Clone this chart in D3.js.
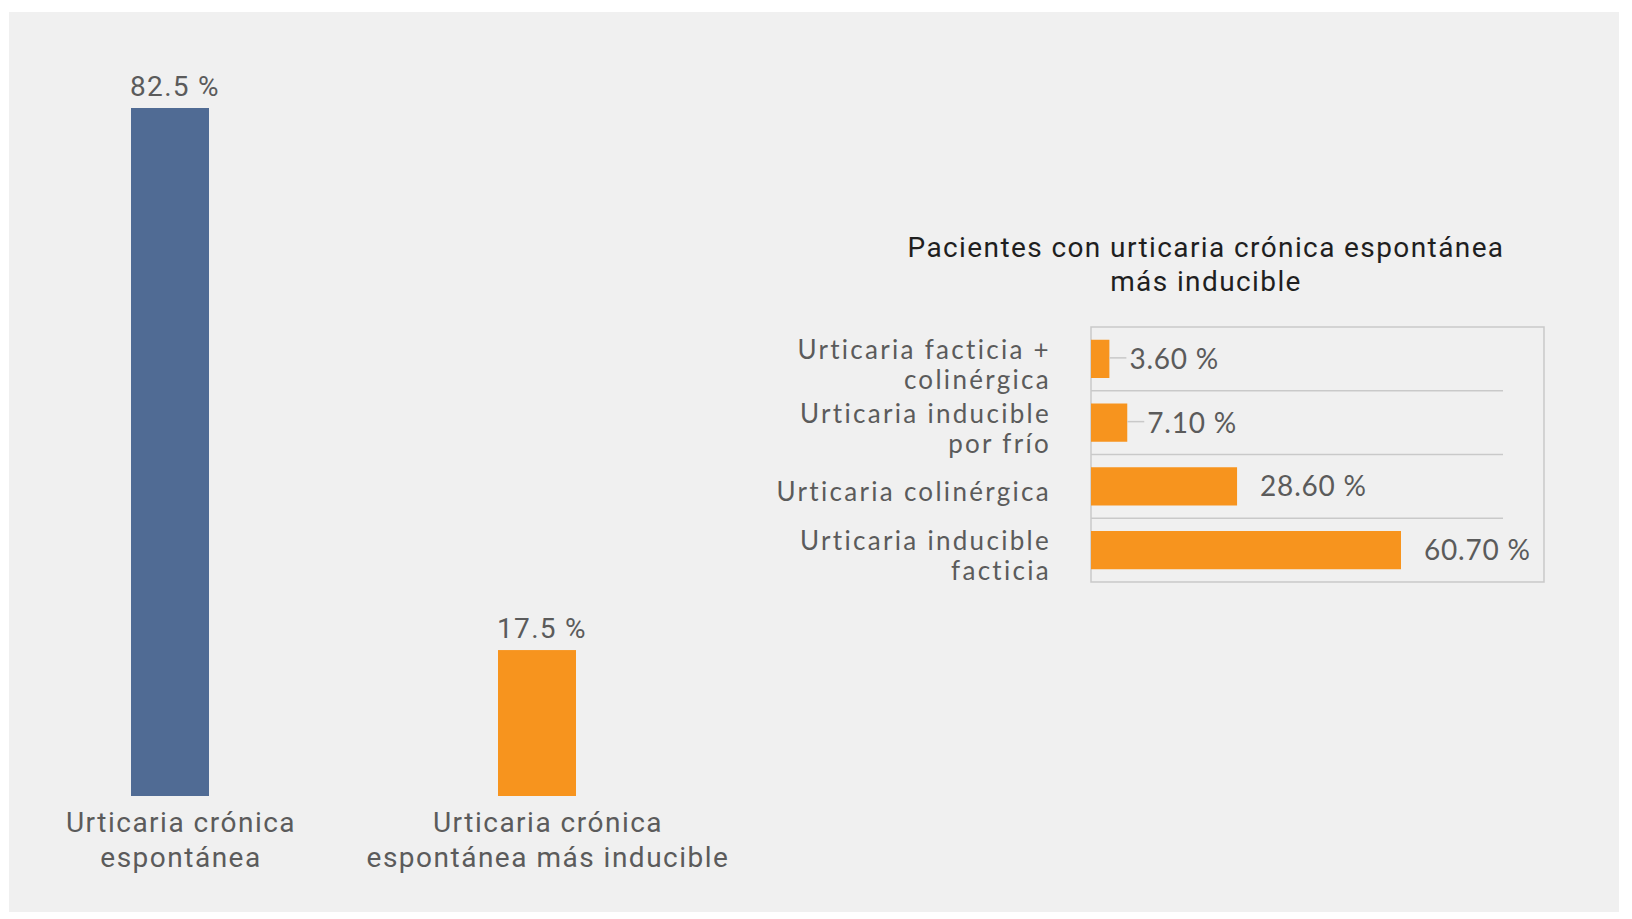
<!DOCTYPE html>
<html>
<head>
<meta charset="utf-8">
<script src="https://cdn.jsdelivr.net/npm/d3@7"></script>
<style>
    body { margin: 0; background: #ffffff; }
    svg { display: block; }
</style>
</head>
<body>
<div id="viewport"></div>
<script>
// left chart: share of patients
var mainCategories = [["Urticaria crónica", "espontánea"], ["Urticaria crónica", "espontánea más inducible"]];
var mainValues = [82.5, 17.5];
var mainLabels = ["82.5 %", "17.5 %"];

// right chart: breakdown of the inducible group
var subTitle = ["Pacientes con urticaria crónica espontánea", "más inducible"];
var subCategories = [["Urticaria facticia +", "colinérgica"], ["Urticaria inducible", "por frío"], ["Urticaria colinérgica"], ["Urticaria inducible", "facticia"]];
var subValues = [3.6, 7.1, 28.6, 60.7];
var subLabels = ["3.60 %", "7.10 %", "28.60 %", "60.70 %"];

var width = 1632,
    height = 919;

var blue = "#506b94",
    orange = "#f7941e",
    textGrey = "#5b5b5b",
    lineGrey = "#c9c9c9";

var svg = d3.select("#viewport").append("svg")
    .attr("width", width)
    .attr("height", height);

svg.append("rect")
    .attr("x", 9).attr("y", 12)
    .attr("width", 1610).attr("height", 900)
    .attr("fill", "#f0f0f0");

// ---- left chart
var x1 = d3.scalePoint().domain(d3.range(mainValues.length)).range([170, 537]),
    y1 = d3.scaleLinear().domain([0, 82.5]).range([796, 108]);
var barW = 78;

var left = svg.append("g");

left.selectAll("rect.bar")
    .data(mainValues)
    .enter().append("rect")
    .attr("class", "bar")
    .attr("x", function(d, i) { return x1(i) - barW / 2; })
    .attr("y", function(d) { return y1(d); })
    .attr("width", barW)
    .attr("height", function(d) { return y1(0) - y1(d); })
    .attr("fill", function(d, i) { return i === 0 ? blue : orange; });

left.selectAll("text.value")
    .data(mainValues)
    .enter().append("text")
    .attr("class", "value")
    .attr("x", function(d, i) { return x1(i) + 5; })
    .attr("y", function(d) { return y1(d) - 12; })
    .attr("text-anchor", "middle")
    .style("font", "28px Roboto")
    .style("letter-spacing", "1.3px")
    .attr("fill", textGrey)
    .text(function(d, i) { return mainLabels[i]; });

var catText = left.selectAll("text.cat")
    .data(mainCategories)
    .enter().append("text")
    .attr("class", "cat")
    .attr("x", function(d, i) { return x1(i) + 11; })
    .attr("y", y1(0) + 36)
    .attr("text-anchor", "middle")
    .style("font", "28px Roboto")
    .style("letter-spacing", "1.5px")
    .attr("fill", textGrey);

catText.selectAll("tspan")
    .data(function(d) { return d; })
    .enter().append("tspan")
    .attr("x", function() { return this.parentNode.getAttribute("x"); })
    .attr("dy", function(d, i) { return i === 0 ? 0 : 35; })
    .text(function(d) { return d; });

// ---- right chart
var x2 = d3.scaleLinear().domain([0, 60.7]).range([1091, 1401]),
    y2 = d3.scaleBand().domain(d3.range(subValues.length)).range([327, 582])
        .paddingInner(0.4).paddingOuter(0.2);

var right = svg.append("g");

var title = right.append("text")
    .attr("x", 1206)
    .attr("y", 257)
    .attr("text-anchor", "middle")
    .style("font", "28px Roboto")
    .style("letter-spacing", "1.4px")
    .attr("fill", "#1f1f1f");
title.selectAll("tspan")
    .data(subTitle)
    .enter().append("tspan")
    .attr("x", 1206)
    .attr("dy", function(d, i) { return i === 0 ? 0 : 34; })
    .text(function(d) { return d; });

right.append("rect")
    .attr("x", x2(0)).attr("y", 327)
    .attr("width", 1544 - x2(0)).attr("height", 582 - 327)
    .attr("fill", "none")
    .attr("stroke", lineGrey)
    .attr("stroke-width", 1.5);

// separators between rows
right.selectAll("line.sep")
    .data(d3.range(1, subValues.length))
    .enter().append("line")
    .attr("class", "sep")
    .attr("x1", x2(0)).attr("x2", 1503)
    .attr("y1", function(i) { return y2(i) - y2.step() * y2.paddingInner() / 2; })
    .attr("y2", function(i) { return y2(i) - y2.step() * y2.paddingInner() / 2; })
    .attr("stroke", lineGrey)
    .attr("stroke-width", 1.5);

right.selectAll("rect.hbar")
    .data(subValues)
    .enter().append("rect")
    .attr("class", "hbar")
    .attr("x", x2(0))
    .attr("y", function(d, i) { return y2(i); })
    .attr("width", function(d) { return x2(d) - x2(0); })
    .attr("height", y2.bandwidth())
    .attr("fill", orange);

// leader lines for the short bars
right.selectAll("line.lead")
    .data(subValues.filter(function(d) { return d < 10; }))
    .enter().append("line")
    .attr("class", "lead")
    .attr("x1", function(d) { return x2(d); })
    .attr("x2", function(d) { return x2(d) + 17; })
    .attr("y1", function(d, i) { return y2(i) + y2.bandwidth() / 2 - 1; })
    .attr("y2", function(d, i) { return y2(i) + y2.bandwidth() / 2 - 1; })
    .attr("stroke", lineGrey)
    .attr("stroke-width", 1.5);

right.selectAll("text.hval")
    .data(subValues)
    .enter().append("text")
    .attr("class", "hval")
    .attr("x", function(d) { return x2(d) + (d < 10 ? 20 : 23); })
    .attr("y", function(d, i) { return y2(i) + y2.bandwidth() / 2 + 10; })
    .style("font", "28px Lato")
    .style("letter-spacing", "0.8px")
    .attr("fill", textGrey)
    .text(function(d, i) { return subLabels[i]; });

var rowText = right.selectAll("text.row")
    .data(subCategories)
    .enter().append("text")
    .attr("class", "row")
    .attr("x", 1051)
    .attr("y", function(d, i) { return y2(i) + y2.bandwidth() / 2 + 15 - (d.length - 1) * 15; })
    .attr("text-anchor", "end")
    .style("font", "26px Lato")
    .style("letter-spacing", "2.3px")
    .attr("fill", textGrey);

rowText.selectAll("tspan")
    .data(function(d) { return d; })
    .enter().append("tspan")
    .attr("x", 1051)
    .attr("dy", function(d, i) { return i === 0 ? 0 : 30; })
    .text(function(d) { return d; });

</script>
</body>
</html>
